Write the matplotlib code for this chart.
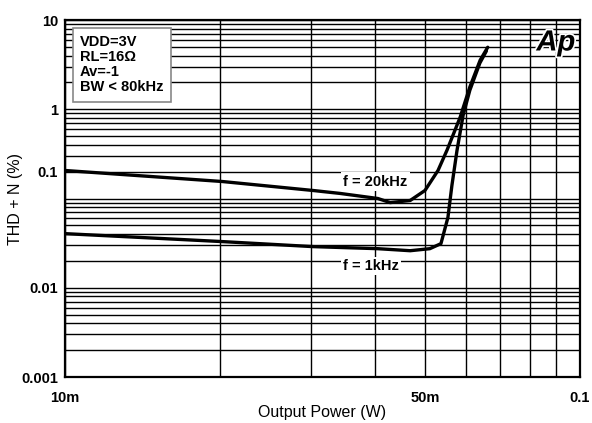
import matplotlib
matplotlib.use('Agg')
import matplotlib.pyplot as plt
import matplotlib.patheffects as pe
from matplotlib.ticker import LogLocator, NullFormatter, FixedLocator, FixedFormatter

plt.rcParams['font.family'] = ['Liberation Sans', 'DejaVu Sans']

# curve data (W, %)
power_20k = [0.0100, 0.0202, 0.0303, 0.0342, 0.0405, 0.0428, 0.0468, 0.0500,
             0.0530, 0.0552, 0.0585, 0.0611, 0.0640, 0.0662]
thd_20k = [0.206, 0.155, 0.123, 0.114, 0.100, 0.090, 0.095, 0.123,
           0.206, 0.350, 0.810, 1.77, 3.55, 4.95]

power_1k = [0.0100, 0.0202, 0.0303, 0.0405, 0.0468, 0.0511, 0.0537, 0.0554,
            0.0564, 0.0577, 0.0593, 0.0611, 0.0639, 0.0658]
thd_1k = [0.0404, 0.0329, 0.0289, 0.0274, 0.0260, 0.0274, 0.0312, 0.0612,
          0.140, 0.346, 0.857, 1.63, 3.29, 4.50]

# tick labels as printed on the chart
x_ticks = [0.01, 0.05, 0.1]
x_labels = ['10m', '50m', '0.1']
y_ticks = [0.001, 0.01, 0.2, 1, 10]
y_labels = ['0.001', '0.01', '0.1', '1', '10']

conditions = 'VDD=3V\nRL=16\u03a9\nAv=-1\nBW < 80kHz'

fig = plt.figure(figsize=(5.92, 4.23), dpi=100)
ax = fig.add_axes([65 / 592, 1 - 377 / 423, 515 / 592, 357 / 423])

ax.set_xscale('log')
ax.set_yscale('log')
ax.set_xlim(0.01, 0.1)
ax.set_ylim(0.001, 10)

# grid: every decade and every 2..9 inside it
ax.xaxis.set_major_locator(FixedLocator(x_ticks))
ax.xaxis.set_major_formatter(FixedFormatter(x_labels))
ax.xaxis.set_minor_locator(LogLocator(base=10, subs=range(1, 10), numticks=50))
ax.xaxis.set_minor_formatter(NullFormatter())
ax.yaxis.set_major_locator(FixedLocator(y_ticks))
ax.yaxis.set_major_formatter(FixedFormatter(y_labels))
ax.yaxis.set_minor_locator(LogLocator(base=10, subs=range(1, 10), numticks=50))
ax.yaxis.set_minor_formatter(NullFormatter())
ax.grid(True, which='both', color='black', linewidth=1.0)
ax.set_axisbelow(True)

ax.tick_params(which='both', length=0)
ax.tick_params(axis='x', pad=10, labelsize=10.5)
ax.tick_params(axis='y', pad=5, labelsize=10.5)
for lab in ax.get_xticklabels() + ax.get_yticklabels():
    lab.set_fontweight('bold')
for s in ax.spines.values():
    s.set_linewidth(1.6)

# the curves
ax.plot(power_20k, thd_20k, color='black', linewidth=2.4, solid_capstyle='round', zorder=3)
ax.plot(power_1k, thd_1k, color='black', linewidth=2.4, solid_capstyle='round', zorder=3)

# curve labels
ax.text(0.0347, 0.155, 'f = 20kHz', fontsize=10.5, fontweight='bold', va='center', ha='left',
        bbox=dict(facecolor='white', edgecolor='none', pad=1.5), zorder=4)
ax.text(0.0347, 0.0177, 'f = 1kHz', fontsize=10.5, fontweight='bold', va='center', ha='left',
        bbox=dict(facecolor='white', edgecolor='none', pad=1.5), zorder=4)

# conditions box
ax.text(0.029, 0.958, conditions, transform=ax.transAxes, fontsize=10.5, fontweight='bold',
        va='top', ha='left', linespacing=1.1,
        bbox=dict(facecolor='white', edgecolor='#888888', linewidth=1.2,
                  boxstyle='square,pad=0.5'), zorder=5)

# Ap logo
ax.text(0.953, 0.937, 'Ap', transform=ax.transAxes, fontsize=21, fontweight='bold',
        fontstyle='italic', va='center', ha='center', zorder=5,
        path_effects=[pe.withStroke(linewidth=2.5, foreground='white')])

ax.set_xlabel('Output Power (W)', fontsize=11.5, labelpad=0)
ax.set_ylabel('THD + N (%)', fontsize=11.5)
ax.yaxis.set_label_coords(-0.097, 0.50)
ax.yaxis.label.set_verticalalignment('center')

fig.savefig('out.png', dpi=100)
